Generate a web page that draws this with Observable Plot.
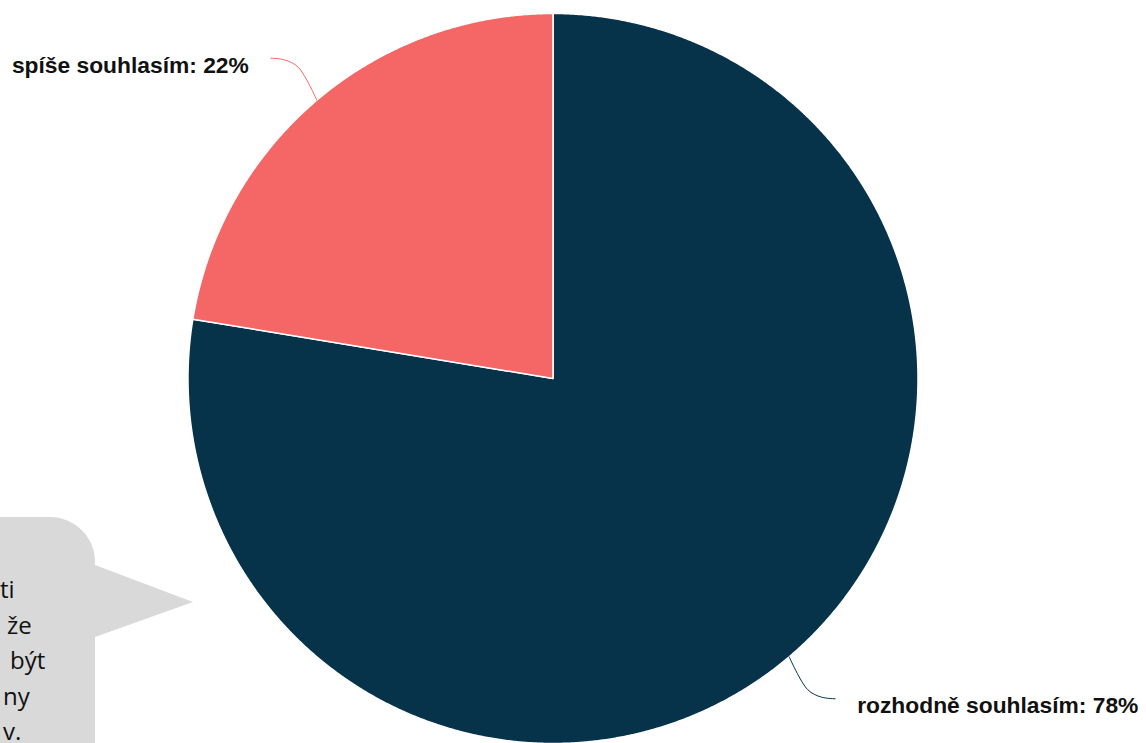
<!DOCTYPE html>
<html>
<head>
<meta charset="utf-8">
<script src="https://cdn.jsdelivr.net/npm/d3@7"></script>
<script src="https://cdn.jsdelivr.net/npm/@observablehq/plot@0.6"></script>
<style>
html,body{margin:0;padding:0;background:#fff;overflow:hidden}
#wrap{position:relative;width:1146px;height:743px;overflow:hidden}
#wrap > svg{position:absolute;left:0;top:0}
#bubble{position:absolute;left:0;top:0;pointer-events:none}
</style>
</head>
<body>
<div id="wrap"></div>
<script>
// ---- data ----
const categories = ["rozhodně souhlasím", "spíše souhlasím"];
const shares = [77.6, 22.4];
const sliceColors = ["#06324a", "#f56666"];
const bubbleLines = ["ti", "že", "být", "ny", "v."];

// ---- geometry helpers (derived from the data) ----
const R = 365, CX = 552.5, CY = 378;
const pie = d3.pie().sort(null).value(d => d.v)(categories.map((c, i) => ({c, v: shares[i]})));

const slicePts = [];
pie.forEach(a => {
  const n = Math.max(2, Math.ceil((a.endAngle - a.startAngle) / (Math.PI / 720)));
  slicePts.push({c: a.data.c, x: 0, y: 0});
  for (let k = 0; k <= n; k++) {
    const t = a.startAngle + (a.endAngle - a.startAngle) * k / n;
    slicePts.push({c: a.data.c, x: Math.sin(t), y: Math.cos(t)});
  }
  slicePts.push({c: a.data.c, x: 0, y: 0});
});

const leaders = [], labels = [];
pie.forEach((a, i) => {
  const m = (a.startAngle + a.endAngle) / 2;
  const sx = Math.sign(Math.sin(m)), sy = Math.sign(Math.cos(m));
  const x0 = Math.sin(m), y0 = Math.cos(m);
  const dxu = 46 / R, dyu = 42 / R;
  [[0, 0], [0.4, 0.78], [0.7, 0.96], [1, 1]].forEach(([fx, fy]) =>
    leaders.push({c: a.data.c, x: x0 + sx * dxu * fx, y: y0 + sy * dyu * fy}));
  labels.push({c: a.data.c, text: `${a.data.c}: ${Math.round(a.data.v)}%`, x: x0 + sx * dxu, y: y0 + sy * dyu, side: sx});
});

const textOpts = {x: "x", y: "y", text: "text", lineAnchor: "bottom", dy: 14.5,
  fill: "#111", fontFamily: "Liberation Sans, Arial, sans-serif", fontWeight: "bold", fontSize: 22.8};

const chart = Plot.plot({
  width: 1146,
  height: 743,
  margin: 0,
  x: {domain: [-1, 1], range: [CX - R, CX + R], axis: null},
  y: {domain: [-1, 1], range: [CY + R, CY - R], axis: null},
  color: {domain: categories, range: sliceColors},
  marks: [
    Plot.line(slicePts, {x: "x", y: "y", z: "c", fill: "c", stroke: "white", strokeWidth: 1.5, strokeLinejoin: "round"}),
    Plot.line(leaders, {x: "x", y: "y", z: "c", stroke: "c", strokeWidth: 1, curve: "catmull-rom"}),
    Plot.text(labels.filter(d => d.side > 0), {...textOpts, textAnchor: "start", dx: 22}),
    Plot.text(labels.filter(d => d.side < 0), {...textOpts, textAnchor: "end", dx: -22})
  ]
});
document.getElementById("wrap").appendChild(chart);

// ---- speech bubble overlay (annotation) ----
const ns = "http://www.w3.org/2000/svg";
const bsvg = document.createElementNS(ns, "svg");
bsvg.setAttribute("id", "bubble");
bsvg.setAttribute("width", 1146);
bsvg.setAttribute("height", 743);
const path = document.createElementNS(ns, "path");
path.setAttribute("d", "M -20 517 H 50 A 45 45 0 0 1 95 562 V 565 L 193 602 L 95 637 V 760 H -20 Z");
path.setAttribute("fill", "#d9d9d9");
bsvg.appendChild(path);
const lineX = [0, 7, 10, 3, 3];
bubbleLines.forEach((s, i) => {
  const t = document.createElementNS(ns, "text");
  t.setAttribute("x", lineX[i]);
  t.setAttribute("y", 598 + i * 35.5);
  t.setAttribute("font-family", "Open Sans, sans-serif");
  t.setAttribute("font-size", 24);
  t.setAttribute("fill", "#111");
  t.textContent = s;
  bsvg.appendChild(t);
});
document.getElementById("wrap").appendChild(bsvg);
</script>
</body>
</html>
